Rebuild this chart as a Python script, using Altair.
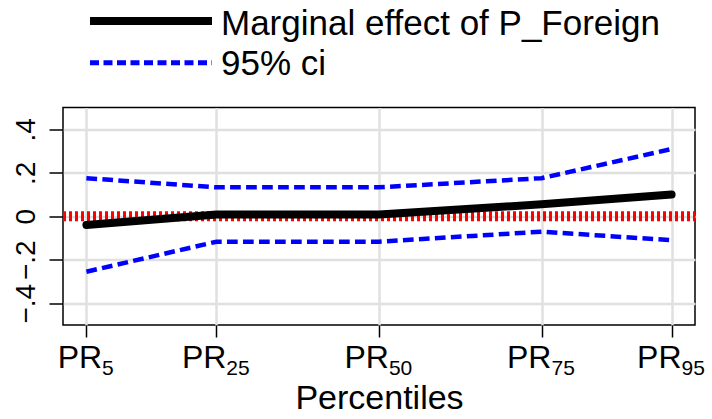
import altair as alt
import pandas as pd

# ---- data ----
percentiles = [5, 25, 50, 75, 95]
subscripts = ["5", "25", "50", "75", "95"]
prefix = ["PR", "PR", "PR", "PR", "PR"]
marginal = [-0.040, 0.008, 0.008, 0.055, 0.100]
ci_upper = [0.175, 0.133, 0.133, 0.175, 0.309]
ci_lower = [-0.255, -0.117, -0.117, -0.071, -0.110]
y_ticks = [-0.4, -0.2, 0, 0.2, 0.4]
legend_labels = ["Marginal effect of P_Foreign", "95% ci"]

FONT = "Liberation Sans, Arial, Helvetica, sans-serif"
W, H = 632, 217.5
GRID = "#e0e0e0"

df = pd.DataFrame({"pct": percentiles, "me": marginal, "lo": ci_lower,
                   "hi": ci_upper, "sub": subscripts, "pre": prefix})

xscale = alt.Scale(domain=[1.4, 98.6], nice=False, zero=False)
yscale = alt.Scale(domain=[-0.5, 0.5], nice=False, zero=False)

x_axis = alt.Axis(values=percentiles, labels=False, ticks=True, tickSize=12,
                  tickWidth=1.5, tickColor="black", grid=True, gridColor=GRID,
                  gridWidth=2.5, domain=False, title="Percentiles",
                  titleFontSize=34, titleFont=FONT, titleFontWeight="normal",
                  titleColor="black", titleY=83, titleBaseline="alphabetic")
y_axis = alt.Axis(values=y_ticks,
                  labelExpr="datum.value == 0 ? '0' : (datum.value < 0 ? '\u2212' : '') + replace(format(abs(datum.value), '.1f'), '0.', '.')",
                  labelAngle=270, labelAlign="center", labelBaseline="bottom",
                  labelFontSize=28, labelFont=FONT, labelColor="black",
                  labelPadding=9, tickSize=14, tickWidth=1.5, tickColor="black",
                  grid=True, gridColor=GRID, gridWidth=2.5, domain=False, title=None)

X = alt.X("pct:Q", scale=xscale, axis=x_axis)

base = alt.Chart(df)

main = base.mark_line(color="black", strokeWidth=8, strokeCap="round").encode(
    x=X, y=alt.Y("me:Q", scale=yscale, axis=y_axis),
)

zero_line = base.mark_rule(color="#ff0000", strokeWidth=10, strokeDash=[3, 3]).encode(
    y=alt.Y("zero:Q", scale=yscale, axis=y_axis), x=alt.value(0), x2=alt.value(W)
).transform_calculate(zero="0").transform_filter("datum.pct == 5")

upper = base.mark_line(color="#0000ff", strokeWidth=4.5, strokeDash=[10.7, 5.3]).encode(
    x=X, y=alt.Y("hi:Q", scale=yscale, axis=y_axis),
)
lower = base.mark_line(color="#0000ff", strokeWidth=4.5, strokeDash=[10.7, 5.3]).encode(
    x=X, y=alt.Y("lo:Q", scale=yscale, axis=y_axis),
)

# custom x tick labels with subscripts
label_layers = []
for n, split in [(1, 15.7), (2, 9.9)]:
    sel = base.transform_filter(f"length(datum.sub) == {n}")
    label_layers.append(sel.mark_text(align="right", baseline="alphabetic", fontSize=32,
                                      font=FONT, color="black", dx=split).encode(
        x=X, y=alt.value(H + 43), text="pre:N"))
    label_layers.append(sel.mark_text(align="left", baseline="alphabetic", fontSize=21,
                                      font=FONT, color="black", dx=split).encode(
        x=X, y=alt.value(H + 50), text="sub:N"))

# manual legend
leg1 = pd.DataFrame({"label": [legend_labels[0]]})
leg2 = pd.DataFrame({"label": [legend_labels[1]]})
leg_line1 = alt.Chart(leg1).mark_rule(color="black", strokeWidth=8).encode(
    x=alt.value(27), x2=alt.value(149), y=alt.value(-86.5))
leg_line2 = alt.Chart(leg2).mark_rule(color="#0000ff", strokeWidth=5, strokeDash=[9, 4.5]).encode(
    x=alt.value(27), x2=alt.value(149), y=alt.value(-44.8))
leg_text1 = alt.Chart(leg1).mark_text(align="left", baseline="alphabetic", fontSize=35,
                                      font=FONT, color="black").encode(
    x=alt.value(158), y=alt.value(-72.5), text="label:N")
leg_text2 = alt.Chart(leg2).mark_text(align="left", baseline="alphabetic", fontSize=35,
                                      font=FONT, color="black").encode(
    x=alt.value(158), y=alt.value(-32.5), text="label:N")

chart = alt.layer(
    zero_line, upper, lower, main, *label_layers,
    leg_line1, leg_line2, leg_text1, leg_text2
).properties(
    width=W, height=H,
    autosize=alt.AutoSizeParams(type="none"),
    padding={"left": 63, "top": 107.5, "right": 17, "bottom": 94},
    background="white",
).configure_view(stroke="black", strokeWidth=1.5)

chart.save("out.html", embed_options={"renderer": "svg", "actions": False})
